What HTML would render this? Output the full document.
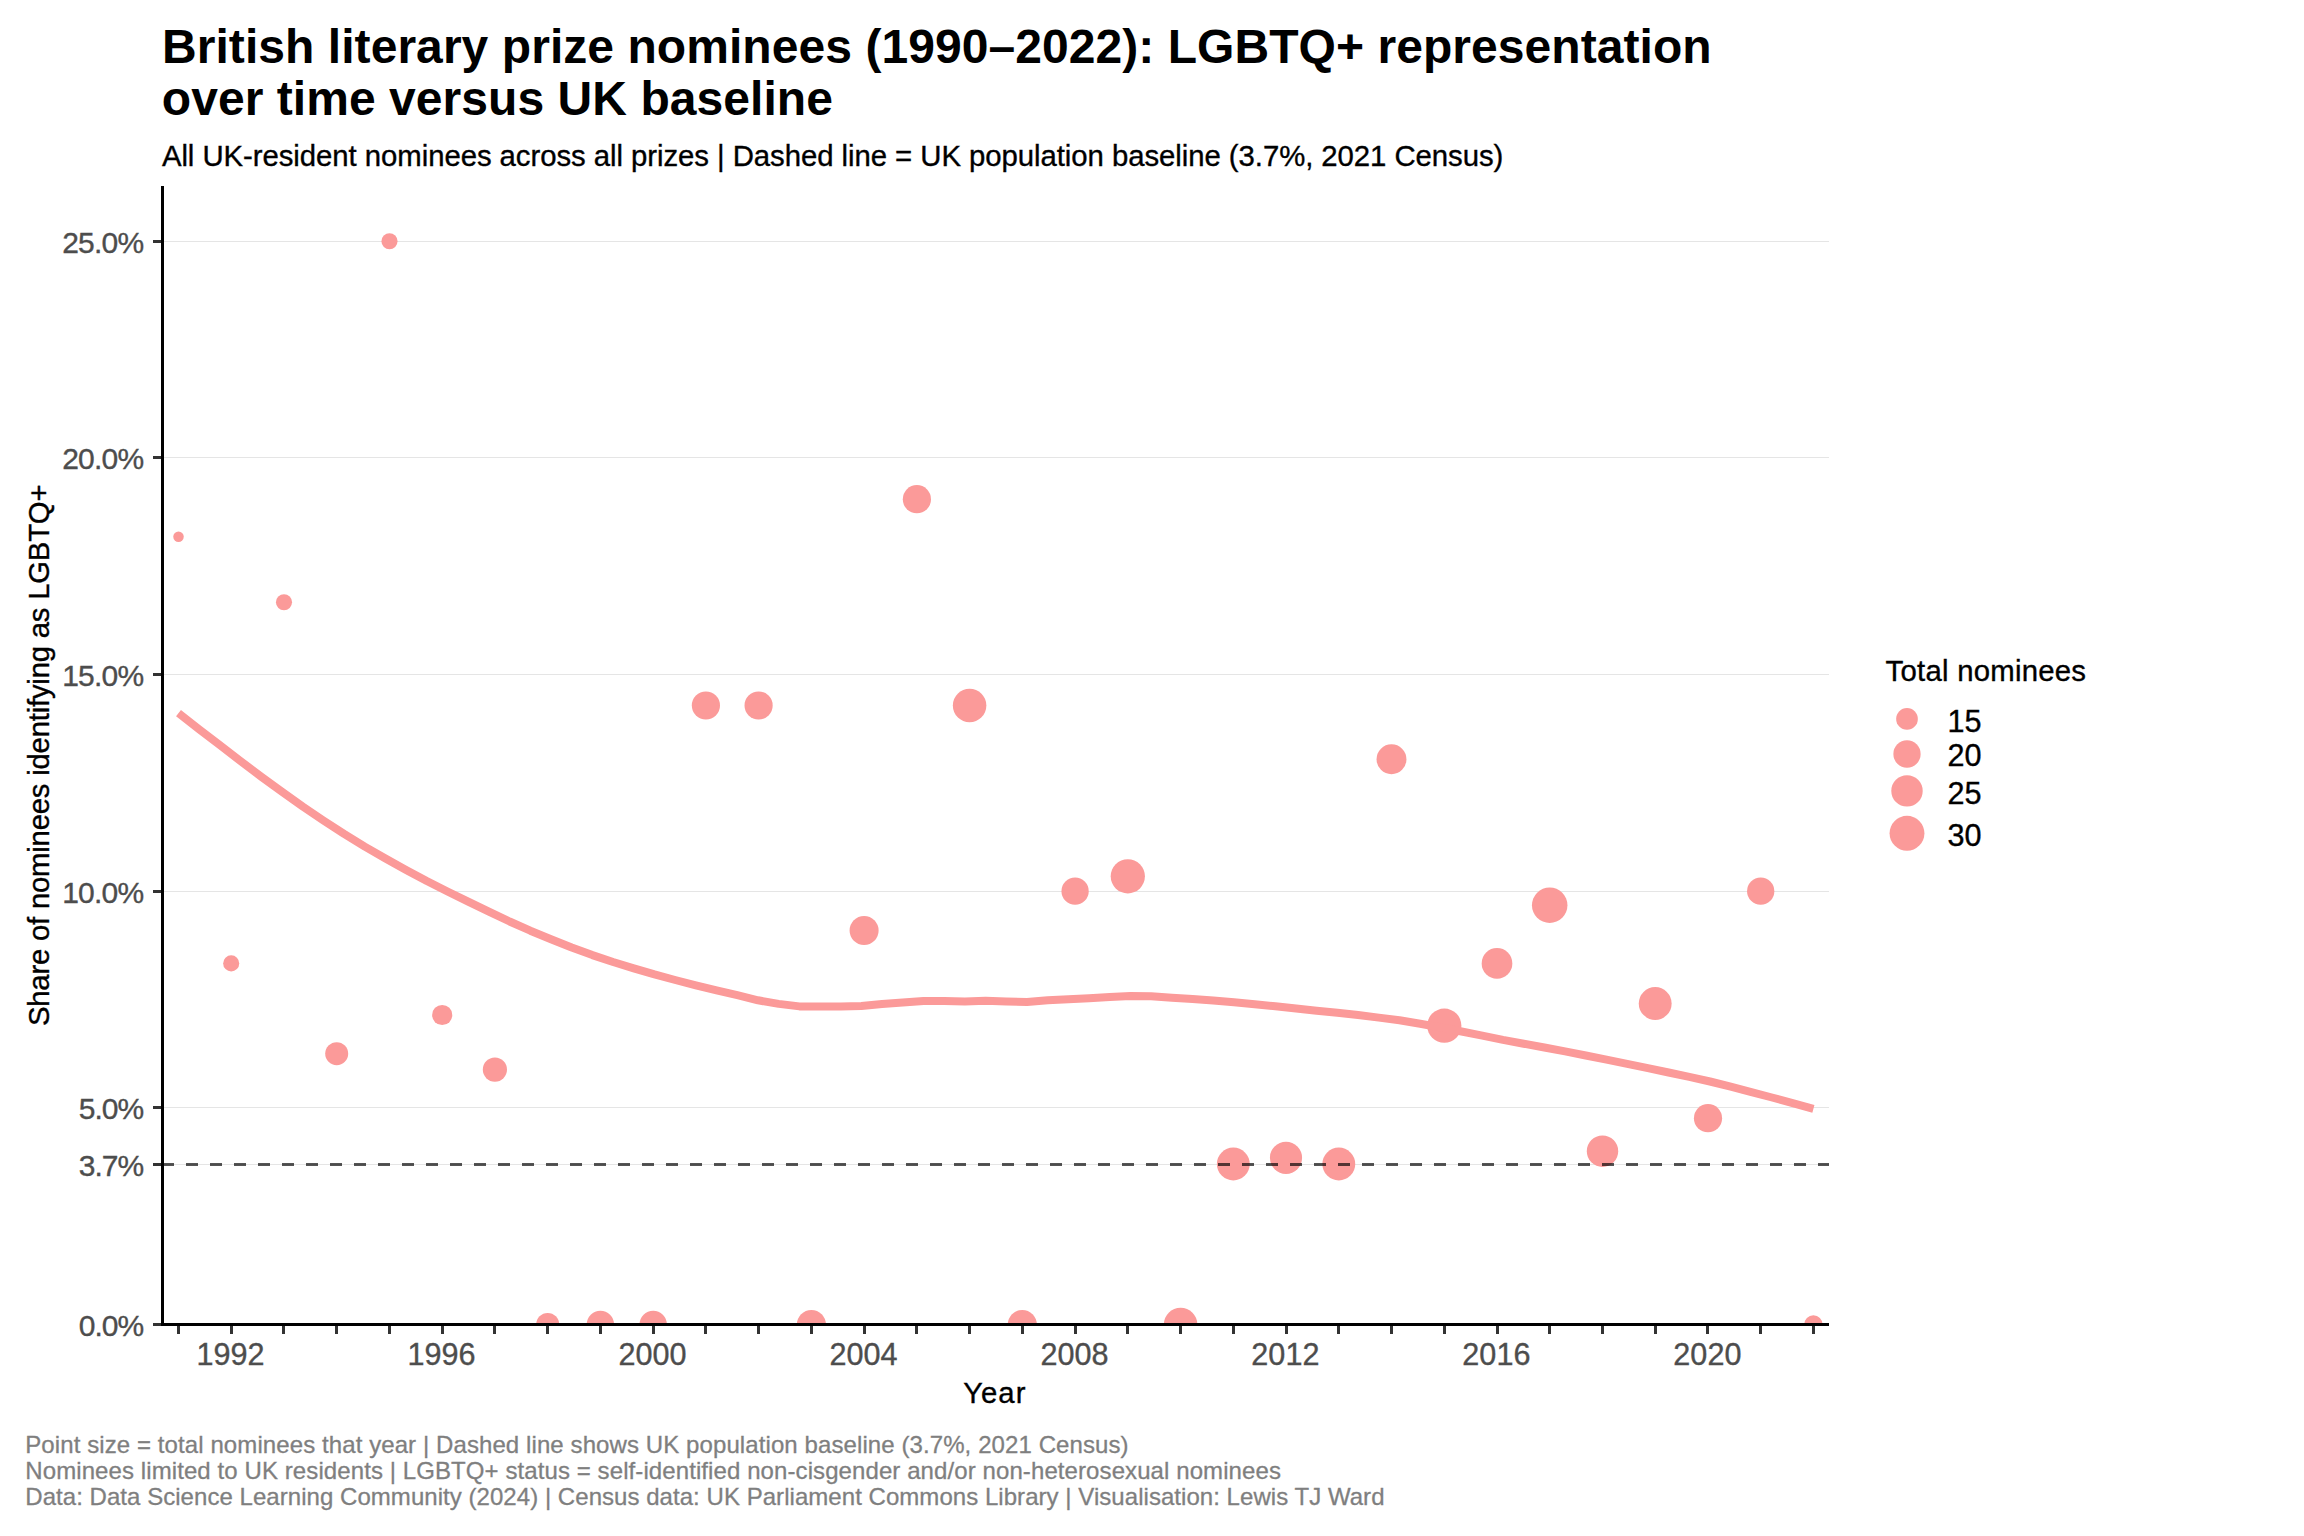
<!DOCTYPE html>
<html lang="en"><head><meta charset="utf-8"><title>British literary prize nominees: LGBTQ+ representation</title>
<style>html,body{margin:0;padding:0;background:#fff}svg{display:block}text{font-family:"Liberation Sans", Arial, sans-serif;white-space:pre}.k{stroke:#000;stroke-width:.35}.g3{stroke:#4D4D4D;stroke-width:.35}.g5{stroke:#7F7F7F;stroke-width:.3}</style></head>
<body>
<svg width="2304" height="1536" viewBox="0 0 2304 1536">
<rect width="2304" height="1536" fill="#ffffff"/>
<defs><clipPath id="panel"><rect x="161" y="186" width="1668" height="1138.5"/></clipPath></defs>
<g font-weight="bold" font-size="48" fill="#000">
<text id="t1" x="162.00" y="63.0" textLength="1549.59" lengthAdjust="spacing">British literary prize nominees (1990–2022): LGBTQ+ representation</text>
<text id="t2" x="161.77" y="114.8" textLength="671.12" lengthAdjust="spacing">over time versus UK baseline</text>
</g>
<text id="sub" x="161.90" y="165.8" textLength="1341.44" lengthAdjust="spacing" class="k" font-size="29.33" fill="#000">All UK-resident nominees across all prizes | Dashed line = UK population baseline (3.7%, 2021 Census)</text>
<g fill="#E5E5E5" shape-rendering="crispEdges">
<rect x="164" y="1164" width="1665" height="1"/>
<rect x="164" y="1107" width="1665" height="1"/>
<rect x="164" y="891" width="1665" height="1"/>
<rect x="164" y="674" width="1665" height="1"/>
<rect x="164" y="457" width="1665" height="1"/>
<rect x="164" y="241" width="1665" height="1"/>
</g>
<g clip-path="url(#panel)" fill="#FB9A99">
<circle cx="178.5" cy="536.7" r="5.25"/>
<circle cx="231.2" cy="963.4" r="8.05"/>
<circle cx="284.0" cy="602.3" r="8.05"/>
<circle cx="336.7" cy="1053.7" r="11.50"/>
<circle cx="389.5" cy="241.2" r="8.05"/>
<circle cx="442.2" cy="1015.0" r="10.09"/>
<circle cx="494.9" cy="1069.6" r="12.10"/>
<circle cx="547.7" cy="1324.5" r="11.50"/>
<circle cx="600.4" cy="1324.5" r="13.64"/>
<circle cx="653.2" cy="1324.5" r="13.64"/>
<circle cx="705.9" cy="705.5" r="14.09"/>
<circle cx="758.6" cy="705.5" r="14.09"/>
<circle cx="811.4" cy="1324.5" r="14.52"/>
<circle cx="864.1" cy="930.6" r="14.52"/>
<circle cx="916.9" cy="499.2" r="14.09"/>
<circle cx="969.6" cy="705.5" r="16.77"/>
<circle cx="1022.3" cy="1324.5" r="14.52"/>
<circle cx="1075.1" cy="891.2" r="13.64"/>
<circle cx="1127.8" cy="876.3" r="17.11"/>
<circle cx="1180.6" cy="1324.5" r="16.77"/>
<circle cx="1233.3" cy="1164.0" r="16.43"/>
<circle cx="1286.0" cy="1157.8" r="16.08"/>
<circle cx="1338.8" cy="1164.0" r="16.43"/>
<circle cx="1391.5" cy="759.3" r="14.93"/>
<circle cx="1444.3" cy="1025.7" r="17.11"/>
<circle cx="1497.0" cy="963.4" r="15.33"/>
<circle cx="1549.7" cy="905.2" r="17.75"/>
<circle cx="1602.5" cy="1151.2" r="15.71"/>
<circle cx="1655.2" cy="1003.5" r="16.43"/>
<circle cx="1708.0" cy="1118.2" r="14.09"/>
<circle cx="1760.7" cy="891.2" r="13.64"/>
<circle cx="1813.4" cy="1324.5" r="9.20"/>
</g>
<polyline clip-path="url(#panel)" points="178.5,713.2 199.2,729.3 219.9,745.1 240.6,761.1 261.3,776.7 282.0,791.8 302.7,806.5 323.4,820.5 344.1,833.9 364.8,846.6 385.5,858.5 406.1,869.9 426.8,881.0 447.5,891.5 468.2,901.7 488.9,911.7 509.6,921.5 530.3,930.7 551.0,939.2 571.7,947.5 592.4,955.1 613.1,962.0 633.8,968.3 654.5,974.4 675.2,980.0 695.9,985.3 716.6,990.4 737.3,995.2 758.0,1000.3 778.7,1003.9 799.4,1006.4 820.1,1006.4 840.8,1006.4 861.4,1005.9 882.1,1004.1 902.8,1002.6 923.5,1001.0 944.2,1000.9 964.9,1001.4 985.6,1000.8 1006.3,1001.4 1027.0,1001.9 1047.7,1000.2 1068.4,999.3 1089.1,998.2 1109.8,997.1 1130.5,996.1 1151.2,996.2 1171.9,997.7 1192.6,998.9 1213.3,1000.5 1234.0,1002.3 1254.7,1004.2 1275.4,1006.3 1296.1,1008.6 1316.7,1010.7 1337.4,1012.8 1358.1,1015.1 1378.8,1017.6 1399.5,1020.2 1420.2,1023.7 1440.9,1027.5 1461.6,1031.5 1482.3,1035.6 1503.0,1039.9 1523.7,1043.7 1544.4,1047.5 1565.1,1051.4 1585.8,1055.5 1606.5,1059.6 1627.2,1063.8 1647.9,1068.1 1668.6,1072.5 1689.3,1076.9 1710.0,1081.5 1730.7,1086.7 1751.4,1092.0 1772.0,1097.5 1792.7,1103.1 1813.4,1108.8" fill="none" stroke="#FB9A99" stroke-width="8" stroke-linejoin="round" stroke-linecap="butt"/>
<g fill="#000" fill-opacity="0.667" shape-rendering="crispEdges">
<rect x="162" y="1163" width="12" height="3"/>
<rect x="186" y="1163" width="12" height="3"/>
<rect x="210" y="1163" width="12" height="3"/>
<rect x="234" y="1163" width="12" height="3"/>
<rect x="258" y="1163" width="12" height="3"/>
<rect x="282" y="1163" width="12" height="3"/>
<rect x="306" y="1163" width="12" height="3"/>
<rect x="330" y="1163" width="12" height="3"/>
<rect x="354" y="1163" width="12" height="3"/>
<rect x="378" y="1163" width="12" height="3"/>
<rect x="402" y="1163" width="12" height="3"/>
<rect x="426" y="1163" width="12" height="3"/>
<rect x="450" y="1163" width="12" height="3"/>
<rect x="474" y="1163" width="12" height="3"/>
<rect x="498" y="1163" width="12" height="3"/>
<rect x="522" y="1163" width="12" height="3"/>
<rect x="546" y="1163" width="12" height="3"/>
<rect x="570" y="1163" width="12" height="3"/>
<rect x="594" y="1163" width="12" height="3"/>
<rect x="618" y="1163" width="12" height="3"/>
<rect x="642" y="1163" width="12" height="3"/>
<rect x="666" y="1163" width="12" height="3"/>
<rect x="690" y="1163" width="12" height="3"/>
<rect x="714" y="1163" width="12" height="3"/>
<rect x="738" y="1163" width="12" height="3"/>
<rect x="762" y="1163" width="12" height="3"/>
<rect x="786" y="1163" width="12" height="3"/>
<rect x="810" y="1163" width="12" height="3"/>
<rect x="834" y="1163" width="12" height="3"/>
<rect x="858" y="1163" width="12" height="3"/>
<rect x="882" y="1163" width="12" height="3"/>
<rect x="906" y="1163" width="12" height="3"/>
<rect x="930" y="1163" width="12" height="3"/>
<rect x="954" y="1163" width="12" height="3"/>
<rect x="978" y="1163" width="12" height="3"/>
<rect x="1002" y="1163" width="12" height="3"/>
<rect x="1026" y="1163" width="12" height="3"/>
<rect x="1050" y="1163" width="12" height="3"/>
<rect x="1074" y="1163" width="12" height="3"/>
<rect x="1098" y="1163" width="12" height="3"/>
<rect x="1122" y="1163" width="12" height="3"/>
<rect x="1146" y="1163" width="12" height="3"/>
<rect x="1170" y="1163" width="12" height="3"/>
<rect x="1194" y="1163" width="12" height="3"/>
<rect x="1218" y="1163" width="12" height="3"/>
<rect x="1242" y="1163" width="12" height="3"/>
<rect x="1266" y="1163" width="12" height="3"/>
<rect x="1290" y="1163" width="12" height="3"/>
<rect x="1314" y="1163" width="12" height="3"/>
<rect x="1338" y="1163" width="12" height="3"/>
<rect x="1362" y="1163" width="12" height="3"/>
<rect x="1386" y="1163" width="12" height="3"/>
<rect x="1410" y="1163" width="12" height="3"/>
<rect x="1434" y="1163" width="12" height="3"/>
<rect x="1458" y="1163" width="12" height="3"/>
<rect x="1482" y="1163" width="12" height="3"/>
<rect x="1506" y="1163" width="12" height="3"/>
<rect x="1530" y="1163" width="12" height="3"/>
<rect x="1554" y="1163" width="12" height="3"/>
<rect x="1578" y="1163" width="12" height="3"/>
<rect x="1602" y="1163" width="12" height="3"/>
<rect x="1626" y="1163" width="12" height="3"/>
<rect x="1650" y="1163" width="12" height="3"/>
<rect x="1674" y="1163" width="12" height="3"/>
<rect x="1698" y="1163" width="12" height="3"/>
<rect x="1722" y="1163" width="12" height="3"/>
<rect x="1746" y="1163" width="12" height="3"/>
<rect x="1770" y="1163" width="12" height="3"/>
<rect x="1794" y="1163" width="12" height="3"/>
<rect x="1818" y="1163" width="11" height="3"/>
</g>
<g fill="#000" shape-rendering="crispEdges">
<rect x="161" y="186" width="3" height="1140"/>
<rect x="161" y="1323" width="1668" height="3"/>
</g>
<g fill="#333333" shape-rendering="crispEdges">
<rect x="153" y="1323" width="8" height="3"/>
<rect x="153" y="1163" width="8" height="3"/>
<rect x="153" y="1106" width="8" height="3"/>
<rect x="153" y="890" width="8" height="3"/>
<rect x="153" y="673" width="8" height="3"/>
<rect x="153" y="456" width="8" height="3"/>
<rect x="153" y="240" width="8" height="3"/>
<rect x="177" y="1326" width="3" height="8"/>
<rect x="230" y="1326" width="3" height="8"/>
<rect x="282" y="1326" width="3" height="8"/>
<rect x="335" y="1326" width="3" height="8"/>
<rect x="388" y="1326" width="3" height="8"/>
<rect x="441" y="1326" width="3" height="8"/>
<rect x="493" y="1326" width="3" height="8"/>
<rect x="546" y="1326" width="3" height="8"/>
<rect x="599" y="1326" width="3" height="8"/>
<rect x="652" y="1326" width="3" height="8"/>
<rect x="704" y="1326" width="3" height="8"/>
<rect x="757" y="1326" width="3" height="8"/>
<rect x="810" y="1326" width="3" height="8"/>
<rect x="863" y="1326" width="3" height="8"/>
<rect x="915" y="1326" width="3" height="8"/>
<rect x="968" y="1326" width="3" height="8"/>
<rect x="1021" y="1326" width="3" height="8"/>
<rect x="1074" y="1326" width="3" height="8"/>
<rect x="1126" y="1326" width="3" height="8"/>
<rect x="1179" y="1326" width="3" height="8"/>
<rect x="1232" y="1326" width="3" height="8"/>
<rect x="1285" y="1326" width="3" height="8"/>
<rect x="1337" y="1326" width="3" height="8"/>
<rect x="1390" y="1326" width="3" height="8"/>
<rect x="1443" y="1326" width="3" height="8"/>
<rect x="1496" y="1326" width="3" height="8"/>
<rect x="1548" y="1326" width="3" height="8"/>
<rect x="1601" y="1326" width="3" height="8"/>
<rect x="1654" y="1326" width="3" height="8"/>
<rect x="1706" y="1326" width="3" height="8"/>
<rect x="1759" y="1326" width="3" height="8"/>
<rect x="1812" y="1326" width="3" height="8"/>
</g>
<g class="g3" font-size="29.33" fill="#4D4D4D">
<g text-anchor="end">
<text x="144.20" y="1335.9" font-size="30" textLength="65.38" lengthAdjust="spacing">0.0%</text>
<text x="144.20" y="1175.6" font-size="30" textLength="65.38" lengthAdjust="spacing">3.7%</text>
<text x="144.20" y="1119.2" font-size="30" textLength="65.38" lengthAdjust="spacing">5.0%</text>
<text x="144.20" y="902.6" font-size="30" textLength="82.06" lengthAdjust="spacing">10.0%</text>
<text x="144.20" y="686.0" font-size="30" textLength="82.06" lengthAdjust="spacing">15.0%</text>
<text x="144.20" y="469.3" font-size="30" textLength="82.06" lengthAdjust="spacing">20.0%</text>
<text x="144.20" y="252.7" font-size="30" textLength="82.06" lengthAdjust="spacing">25.0%</text>
</g><g text-anchor="middle">
<text x="230.6" y="1364.8" font-size="30.6">1992</text>
<text x="441.6" y="1364.8" font-size="30.6">1996</text>
<text x="652.6" y="1364.8" font-size="30.6">2000</text>
<text x="863.5" y="1364.8" font-size="30.6">2004</text>
<text x="1074.5" y="1364.8" font-size="30.6">2008</text>
<text x="1285.4" y="1364.8" font-size="30.6">2012</text>
<text x="1496.4" y="1364.8" font-size="30.6">2016</text>
<text x="1707.4" y="1364.8" font-size="30.6">2020</text>
</g></g>
<text id="xlab" class="k" x="994.31" y="1402.9" font-size="29.33" text-anchor="middle" fill="#000" textLength="62.30" lengthAdjust="spacing">Year</text>
<text id="ylab" class="k" transform="translate(48.8,755.24) rotate(-90)" font-size="29.33" text-anchor="middle" fill="#000" textLength="541.69" lengthAdjust="spacing">Share of nominees identifying as LGBTQ+</text>
<text id="legt" x="1885.54" y="680.8" textLength="200.48" lengthAdjust="spacing" class="k" font-size="29.33" fill="#000">Total nominees</text>
<g fill="#FB9A99">
<circle cx="1907" cy="718.9" r="10.84"/>
<circle cx="1907" cy="754.0" r="13.64"/>
<circle cx="1907" cy="790.9" r="15.71"/>
<circle cx="1907" cy="833.3" r="17.43"/>
</g>
<g class="k" font-size="29.33" fill="#000">
<text x="1947.6" y="731.7" font-size="30.6">15</text>
<text x="1947.6" y="765.9" font-size="30.6">20</text>
<text x="1947.6" y="804.0" font-size="30.6">25</text>
<text x="1947.6" y="845.6" font-size="30.6">30</text>
</g>
<g class="g5" font-size="24" fill="#7F7F7F">
<text id="c1" x="25.27" y="1452.5" textLength="1103.31" lengthAdjust="spacing">Point size = total nominees that year | Dashed line shows UK population baseline (3.7%, 2021 Census)</text>
<text id="c2" x="25.27" y="1478.6" textLength="1255.66" lengthAdjust="spacing">Nominees limited to UK residents | LGBTQ+ status = self-identified non-cisgender and/or non-heterosexual nominees</text>
<text id="c3" x="25.27" y="1504.8" textLength="1359.25" lengthAdjust="spacing">Data: Data Science Learning Community (2024) | Census data: UK Parliament Commons Library | Visualisation: Lewis TJ Ward</text>
</g>
</svg></body></html>
